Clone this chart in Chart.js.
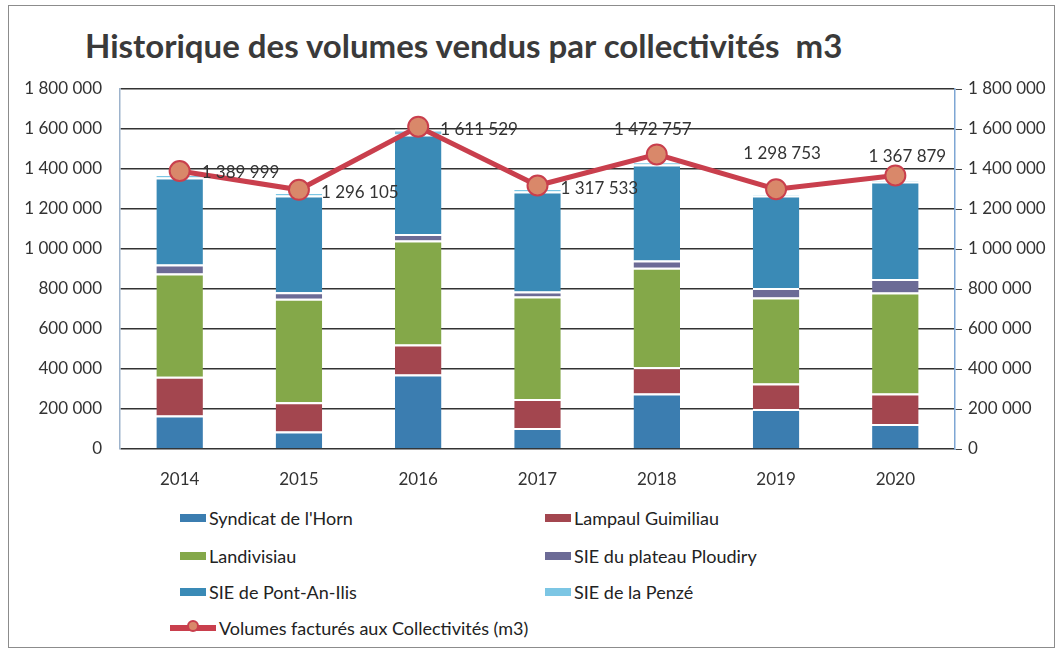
<!DOCTYPE html>
<html>
<head>
<meta charset="utf-8">
<script src="https://cdn.jsdelivr.net/npm/chart.js@4.4.1/dist/chart.umd.min.js"></script>
<style>
  body { margin: 0; background: #fff; font-family: Lato, sans-serif; }
  #wrap { position: relative; width: 1060px; height: 656px; overflow: hidden; }
  #frame { position: absolute; left: 8px; top: 5px; width: 1045px; height: 641px; border: 1px solid #8c8c8c; }
  #title { position: absolute; left: 85px; top: 25px; font: bold 33px Lato, sans-serif; color: #3a3a3a; white-space: pre; }
  #box { position: absolute; left: 0; top: 0; width: 1060px; height: 500px; }
  .lg { position: absolute; font: 18px Lato, sans-serif; color: #222; display: flex; align-items: center; white-space: nowrap; }
  .sw { width: 26px; height: 8px; margin-right: 3px; }
  .ln { position: relative; width: 46px; height: 6px; margin-right: 3px; }
  .ln span { position: absolute; left: 17px; top: -5px; width: 12px; height: 12px; border-radius: 50%; box-sizing: border-box; }
</style>
</head>
<body>
<div id="wrap">
  <div id="frame"></div>
  <div id="title">Historique des volumes vendus par collectivités  m3</div>
  <div id="box"><canvas id="myChart"></canvas></div>
  <div id="legend"></div>
</div>
<script>
// years
const years = ['2014', '2015', '2016', '2017', '2018', '2019', '2020'];

// volumes per collectivité (m3)
const horn = [168000, 88000, 372000, 105000, 277000, 200000, 125000];
const lampaul = [193000, 146000, 150000, 145000, 132000, 128000, 153000];
const landivisiau = [516000, 517000, 520000, 513000, 497000, 430000, 505000];
const ploudiry = [45000, 33000, 33000, 25000, 37000, 47000, 67000];
const pontAnIlis = [435000, 483000, 497000, 500000, 480000, 462000, 488000];
const penze = [15000, 15000, 25000, 15000, 12000, 5000, 5000];

// line: volumes facturés
const factures = [1389999, 1296105, 1611529, 1317533, 1472757, 1298753, 1367879];

// axis ticks
const yMin = 0;
const yMax = 1800000;
const yStep = 200000;

const fmt = n => String(n).replace(/\B(?=(\d{3})+(?!\d))/g, ' ');

// where each value label sits relative to its point
const labelPos = [
  { dx: 22, dy: 2, align: 'left' },
  { dx: 22, dy: 3, align: 'left' },
  { dx: 22, dy: 3, align: 'left' },
  { dx: 23, dy: 3, align: 'left' },
  { dx: -4, dy: -25, align: 'center' },
  { dx: 6, dy: -36, align: 'center' },
  { dx: 12, dy: -19, align: 'center' }
];

const lineLabels = {
  id: 'lineLabels',
  afterDatasetsDraw(chart) {
    const meta = chart.getDatasetMeta(6);
    const c = chart.ctx;
    c.save();
    c.font = '17px Lato';
    c.fillStyle = '#333';
    c.textBaseline = 'middle';
    meta.data.forEach((pt, i) => {
      const p = labelPos[i];
      c.textAlign = p.align;
      c.fillText(fmt(factures[i]), pt.x + p.dx, pt.y + p.dy);
    });
    c.restore();
  }
};

const gap = { top: 2, bottom: 0, left: 0, right: 0 };
const bar = (label, data, color) => ({
  type: 'bar', label: label, data: data, backgroundColor: color,
  borderColor: '#ffffff', borderWidth: gap, borderSkipped: false,
  stack: 's', order: 2, barPercentage: 0.39, categoryPercentage: 1
});

var ctx = document.getElementById('myChart').getContext('2d');

var myChart = new Chart(ctx, {
  data: {
    labels: years,
    datasets: [
      bar("Syndicat de l'Horn", horn, '#3b7db0'),
      bar('Lampaul Guimiliau', lampaul, '#a3464f'),
      bar('Landivisiau', landivisiau, '#84a849'),
      bar('SIE du plateau Ploudiry', ploudiry, '#6c6b96'),
      bar('SIE de Pont-An-Ilis', pontAnIlis, '#3a8ab6'),
      bar('SIE de la Penzé', penze, '#7cc6e4'),
      {
        type: 'line', label: 'Volumes facturés aux Collectivités (m3)', data: factures,
        borderColor: '#c93f4d', borderWidth: 5, pointRadius: 10,
        pointBackgroundColor: '#d9886a', pointBorderColor: '#c93f4d', pointBorderWidth: 2,
        order: 0, tension: 0
      }
    ]
  },
  options: {
    responsive: true,
    maintainAspectRatio: false,
    animation: false,
    layout: { padding: { top: 89, left: 10, right: 0, bottom: 0 } },
    plugins: { legend: { display: false }, tooltip: { enabled: false } },
    scales: {
      x: {
        stacked: true,
        grid: { display: false, drawTicks: false },
        border: { display: false },
        ticks: { padding: 20, color: '#333', font: { family: 'Lato', size: 17 } },
        afterFit: s => { s.height = 51; }
      },
      y: {
        stacked: true, min: yMin, max: yMax,
        grid: { color: '#333333', lineWidth: 1.5, drawTicks: false },
        border: { display: true, color: '#9db3cc', width: 1.5 },
        ticks: { stepSize: yStep, padding: 18, color: '#333', font: { family: 'Lato', size: 17 }, callback: v => fmt(v) },
        afterFit: s => { s.width = 110; }
      },
      y1: {
        position: 'right', min: yMin, max: yMax,
        grid: { drawOnChartArea: false, drawTicks: true, tickLength: 7, color: '#444' },
        border: { display: true, color: '#7ea6d4', width: 1.5 },
        ticks: { stepSize: yStep, padding: 6, color: '#333', font: { family: 'Lato', size: 17 }, callback: v => fmt(v) },
        afterFit: s => { s.width = 105; }
      }
    }
  },
  plugins: [lineLabels]
});

// two-column legend under the chart
const rowY = [518, 556, 592, 628];
const colX = [180, 545];
const lg = document.getElementById('legend');
myChart.data.datasets.forEach((ds, i) => {
  const el = document.createElement('div');
  el.className = 'lg';
  el.style.left = (ds.type === 'line' ? colX[0] - 10 : colX[i % 2]) + 'px';
  el.style.top = (rowY[Math.floor(i / 2)] - 11) + 'px';
  if (ds.type === 'line') {
    el.innerHTML = '<div class="ln" style="background:' + ds.borderColor + '"><span style="background:' +
      ds.pointBackgroundColor + ';border:2px solid ' + ds.pointBorderColor + '"></span></div>';
  } else {
    el.innerHTML = '<div class="sw" style="background:' + ds.backgroundColor + '"></div>';
  }
  el.appendChild(document.createTextNode(ds.label));
  lg.appendChild(el);
});
</script>
</body>
</html>
